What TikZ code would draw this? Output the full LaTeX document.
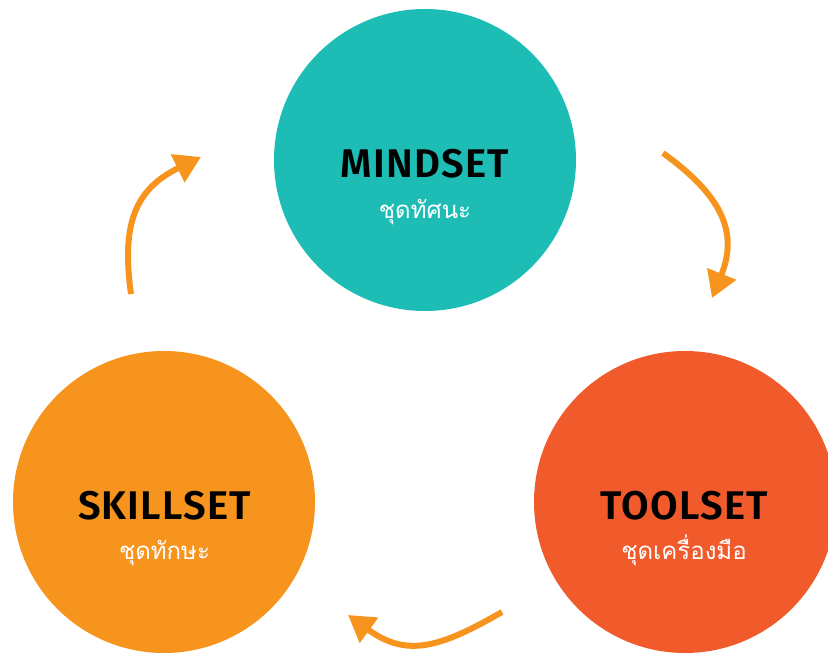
\documentclass[tikz,border=0pt]{standalone}
\usepackage{fontspec}
\usetikzlibrary{arrows.meta}
\newfontfamily\titlefont{Fira Sans SemiBold}[LetterSpace=3]
\newfontfamily\thaifont[Script=Thai]{Loma}
\definecolor{mindteal}{HTML}{1DBDB5}
\definecolor{skillorange}{HTML}{F7941D}
\definecolor{toolred}{HTML}{F15A2B}
\definecolor{arroworange}{HTML}{F7941D}
\tikzset{
  setcircle/.style={circle, minimum size=302pt, inner sep=0pt, draw=none},
  title/.style={anchor=base, inner sep=0pt, text=black, font=\titlefont\fontsize{40}{40}\selectfont},
  subtitle/.style={anchor=base, inner sep=0pt, text=white, font=\thaifont\fontsize{24}{24}\selectfont},
  cyclearrow/.style={draw=arroworange, line width=6pt, -{Triangle[width=30pt,length=26pt]}}
}
\begin{document}
\begin{tikzpicture}[x=1pt, y=1pt]
  \useasboundingbox (0,0) rectangle (828,654);
  % the three sets
  \node[setcircle, fill=mindteal] (mind) at (425,494) {};
  \node[setcircle, fill=skillorange] (skill) at (164,152) {};
  \node[setcircle, fill=toolred] (tool) at (685,152) {};
  % labels
  \node[title] (mindtitle) at (425,476) {MINDSET};
  \node[subtitle] (mindsub) at (425,435) {ชุดทัศนะ};
  \node[title] (skilltitle) at (164.5,134) {SKILLSET};
  \node[subtitle] (skillsub) at (164.5,95) {ชุดทักษะ};
  \node[title] (tooltitle) at (684,134) {TOOLSET};
  \node[subtitle] (toolsub) at (684,95) {ชุดเครื่องมือ};
  % arrow ends
  \coordinate (a1s) at (131,360);
  \coordinate (a1e) at (201,497);
  \coordinate (a2s) at (663,501);
  \coordinate (a2e) at (712,356);
  \coordinate (a3s) at (502,42);
  \coordinate (a3e) at (348,39);
  % the cycle
  \draw[cyclearrow] (a1s) to[out=98, in=206, looseness=1.2] (a1e);
  \draw[cyclearrow] (a2s) to[out=-36, in=68, looseness=1.2] (a2e);
  \draw[cyclearrow] (a3s) to[out=210, in=-36, looseness=1.2] (a3e);
\end{tikzpicture}
\end{document}
